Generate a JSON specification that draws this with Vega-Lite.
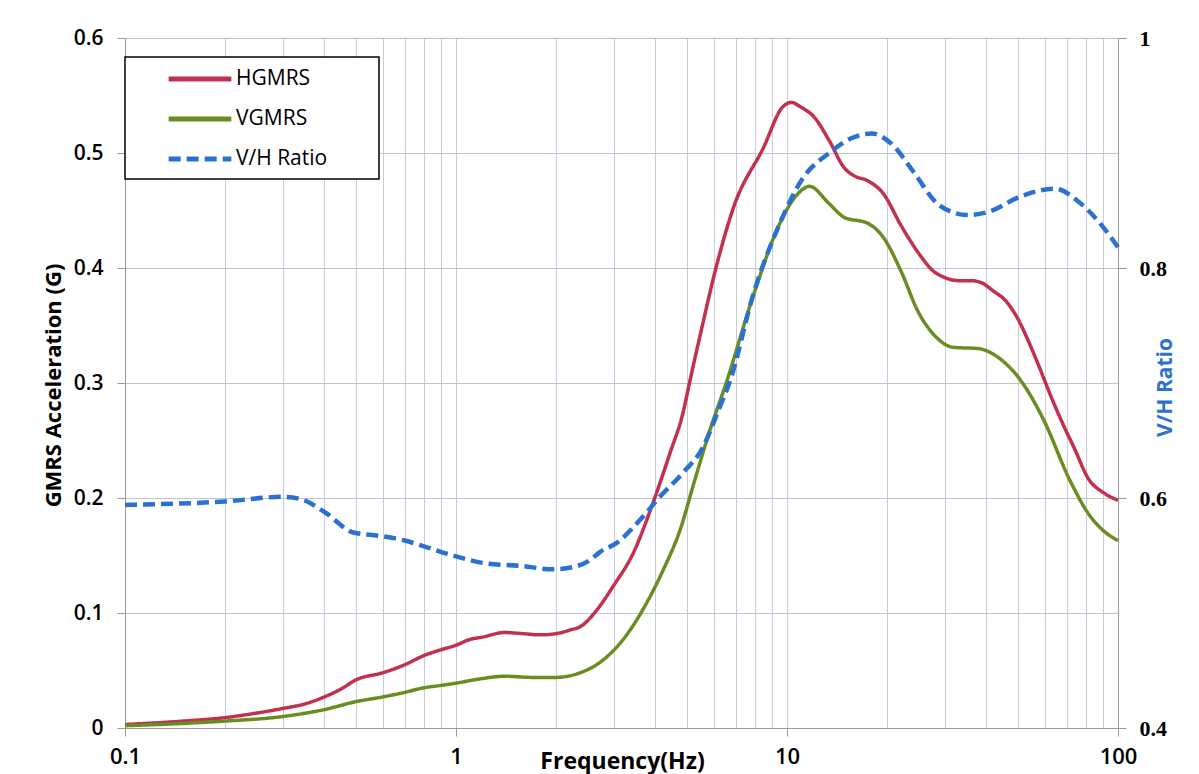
{
  "$schema": "https://vega.github.io/schema/vega-lite/v6.json",
  "width": 993,
  "height": 690,
  "autosize": {"type": "none"},
  "padding": {"left": 125, "top": 38, "right": 81, "bottom": 46},
  "background": "white",
  "config": {
    "view": {"stroke": null},
    "font": "Open Sans",
    "legend": {
      "orient": "none",
      "legendX": 0,
      "legendY": 19,
      "strokeColor": "#000000",
      "strokeWidth": 1.5,
      "fillColor": "#ffffff",
      "padding": 10,
      "symbolOffset": 53,
      "symbolType": "M-3.3,0L3.3,0",
      "symbolSize": 361,
      "symbolStrokeWidth": 5,
      "labelOffset": 24,
      "labelFontSize": 21,
      "labelFont": "Open Sans",
      "labelColor": "#000000",
      "rowPadding": 18
    }
  },
  "data": {
    "values": [
      {"f": 0.1, "s": "HGMRS", "v": 0.003},
      {"f": 0.15, "s": "HGMRS", "v": 0.006},
      {"f": 0.2, "s": "HGMRS", "v": 0.009},
      {"f": 0.25, "s": "HGMRS", "v": 0.013},
      {"f": 0.3, "s": "HGMRS", "v": 0.017},
      {"f": 0.35, "s": "HGMRS", "v": 0.021},
      {"f": 0.4, "s": "HGMRS", "v": 0.027},
      {"f": 0.45, "s": "HGMRS", "v": 0.034},
      {"f": 0.5, "s": "HGMRS", "v": 0.042},
      {"f": 0.6, "s": "HGMRS", "v": 0.048},
      {"f": 0.7, "s": "HGMRS", "v": 0.055},
      {"f": 0.8, "s": "HGMRS", "v": 0.063},
      {"f": 0.9, "s": "HGMRS", "v": 0.068},
      {"f": 1.0, "s": "HGMRS", "v": 0.072},
      {"f": 1.1, "s": "HGMRS", "v": 0.077},
      {"f": 1.2, "s": "HGMRS", "v": 0.079},
      {"f": 1.4, "s": "HGMRS", "v": 0.083},
      {"f": 1.6, "s": "HGMRS", "v": 0.082},
      {"f": 1.8, "s": "HGMRS", "v": 0.081},
      {"f": 2.0, "s": "HGMRS", "v": 0.082},
      {"f": 2.2, "s": "HGMRS", "v": 0.085},
      {"f": 2.4, "s": "HGMRS", "v": 0.089},
      {"f": 2.67, "s": "HGMRS", "v": 0.103},
      {"f": 2.98, "s": "HGMRS", "v": 0.123},
      {"f": 3.43, "s": "HGMRS", "v": 0.152},
      {"f": 3.94, "s": "HGMRS", "v": 0.196},
      {"f": 4.43, "s": "HGMRS", "v": 0.239},
      {"f": 4.85, "s": "HGMRS", "v": 0.274},
      {"f": 5.1, "s": "HGMRS", "v": 0.303},
      {"f": 5.5, "s": "HGMRS", "v": 0.345},
      {"f": 6.1, "s": "HGMRS", "v": 0.4},
      {"f": 6.9, "s": "HGMRS", "v": 0.453},
      {"f": 8.5, "s": "HGMRS", "v": 0.505},
      {"f": 9.7, "s": "HGMRS", "v": 0.54},
      {"f": 10.3, "s": "HGMRS", "v": 0.544},
      {"f": 11.0, "s": "HGMRS", "v": 0.54},
      {"f": 12.1, "s": "HGMRS", "v": 0.531},
      {"f": 13.4, "s": "HGMRS", "v": 0.511},
      {"f": 14.9, "s": "HGMRS", "v": 0.487},
      {"f": 16.0, "s": "HGMRS", "v": 0.48},
      {"f": 17.5, "s": "HGMRS", "v": 0.476},
      {"f": 19.5, "s": "HGMRS", "v": 0.465},
      {"f": 22.2, "s": "HGMRS", "v": 0.436},
      {"f": 25.4, "s": "HGMRS", "v": 0.41},
      {"f": 27.5, "s": "HGMRS", "v": 0.398},
      {"f": 29.8, "s": "HGMRS", "v": 0.392},
      {"f": 33.0, "s": "HGMRS", "v": 0.389},
      {"f": 36.0, "s": "HGMRS", "v": 0.389},
      {"f": 38.8, "s": "HGMRS", "v": 0.387},
      {"f": 42.0, "s": "HGMRS", "v": 0.38},
      {"f": 45.6, "s": "HGMRS", "v": 0.372},
      {"f": 50.0, "s": "HGMRS", "v": 0.355},
      {"f": 53.5, "s": "HGMRS", "v": 0.337},
      {"f": 58.0, "s": "HGMRS", "v": 0.313},
      {"f": 62.8, "s": "HGMRS", "v": 0.288},
      {"f": 68.0, "s": "HGMRS", "v": 0.265},
      {"f": 73.6, "s": "HGMRS", "v": 0.244},
      {"f": 81.7, "s": "HGMRS", "v": 0.216},
      {"f": 90.0, "s": "HGMRS", "v": 0.205},
      {"f": 100.0, "s": "HGMRS", "v": 0.198},

      {"f": 0.1, "s": "VGMRS", "v": 0.002},
      {"f": 0.15, "s": "VGMRS", "v": 0.004},
      {"f": 0.2, "s": "VGMRS", "v": 0.006},
      {"f": 0.3, "s": "VGMRS", "v": 0.01},
      {"f": 0.4, "s": "VGMRS", "v": 0.016},
      {"f": 0.5, "s": "VGMRS", "v": 0.023},
      {"f": 0.6, "s": "VGMRS", "v": 0.027},
      {"f": 0.7, "s": "VGMRS", "v": 0.031},
      {"f": 0.8, "s": "VGMRS", "v": 0.035},
      {"f": 0.9, "s": "VGMRS", "v": 0.037},
      {"f": 1.0, "s": "VGMRS", "v": 0.039},
      {"f": 1.2, "s": "VGMRS", "v": 0.043},
      {"f": 1.4, "s": "VGMRS", "v": 0.045},
      {"f": 1.7, "s": "VGMRS", "v": 0.044},
      {"f": 2.0, "s": "VGMRS", "v": 0.044},
      {"f": 2.37, "s": "VGMRS", "v": 0.048},
      {"f": 2.72, "s": "VGMRS", "v": 0.057},
      {"f": 3.2, "s": "VGMRS", "v": 0.077},
      {"f": 3.67, "s": "VGMRS", "v": 0.103},
      {"f": 4.22, "s": "VGMRS", "v": 0.137},
      {"f": 4.75, "s": "VGMRS", "v": 0.172},
      {"f": 5.27, "s": "VGMRS", "v": 0.216},
      {"f": 5.85, "s": "VGMRS", "v": 0.259},
      {"f": 6.55, "s": "VGMRS", "v": 0.3},
      {"f": 7.89, "s": "VGMRS", "v": 0.375},
      {"f": 9.52, "s": "VGMRS", "v": 0.439},
      {"f": 10.6, "s": "VGMRS", "v": 0.462},
      {"f": 11.7, "s": "VGMRS", "v": 0.471},
      {"f": 13.4, "s": "VGMRS", "v": 0.456},
      {"f": 14.9, "s": "VGMRS", "v": 0.444},
      {"f": 17.5, "s": "VGMRS", "v": 0.439},
      {"f": 19.5, "s": "VGMRS", "v": 0.427},
      {"f": 22.2, "s": "VGMRS", "v": 0.396},
      {"f": 24.8, "s": "VGMRS", "v": 0.363},
      {"f": 28.2, "s": "VGMRS", "v": 0.34},
      {"f": 31.8, "s": "VGMRS", "v": 0.331},
      {"f": 37.7, "s": "VGMRS", "v": 0.33},
      {"f": 44.5, "s": "VGMRS", "v": 0.32},
      {"f": 50.6, "s": "VGMRS", "v": 0.303},
      {"f": 59.6, "s": "VGMRS", "v": 0.268},
      {"f": 71.4, "s": "VGMRS", "v": 0.216},
      {"f": 82.0, "s": "VGMRS", "v": 0.185},
      {"f": 90.0, "s": "VGMRS", "v": 0.172},
      {"f": 100.0, "s": "VGMRS", "v": 0.163},

      {"f": 0.1, "s": "V/H Ratio", "v": 0.594},
      {"f": 0.2, "s": "V/H Ratio", "v": 0.597},
      {"f": 0.3, "s": "V/H Ratio", "v": 0.601},
      {"f": 0.34, "s": "V/H Ratio", "v": 0.599},
      {"f": 0.4, "s": "V/H Ratio", "v": 0.588},
      {"f": 0.49, "s": "V/H Ratio", "v": 0.57},
      {"f": 0.59, "s": "V/H Ratio", "v": 0.567},
      {"f": 0.7, "s": "V/H Ratio", "v": 0.563},
      {"f": 0.8, "s": "V/H Ratio", "v": 0.558},
      {"f": 0.98, "s": "V/H Ratio", "v": 0.55},
      {"f": 1.24, "s": "V/H Ratio", "v": 0.543},
      {"f": 1.56, "s": "V/H Ratio", "v": 0.541},
      {"f": 1.96, "s": "V/H Ratio", "v": 0.538},
      {"f": 2.26, "s": "V/H Ratio", "v": 0.54},
      {"f": 2.54, "s": "V/H Ratio", "v": 0.546},
      {"f": 2.72, "s": "V/H Ratio", "v": 0.553},
      {"f": 3.06, "s": "V/H Ratio", "v": 0.561},
      {"f": 3.6, "s": "V/H Ratio", "v": 0.581},
      {"f": 4.13, "s": "V/H Ratio", "v": 0.601},
      {"f": 4.85, "s": "V/H Ratio", "v": 0.622},
      {"f": 5.57, "s": "V/H Ratio", "v": 0.644},
      {"f": 6.2, "s": "V/H Ratio", "v": 0.676},
      {"f": 6.75, "s": "V/H Ratio", "v": 0.703},
      {"f": 7.89, "s": "V/H Ratio", "v": 0.776},
      {"f": 9.52, "s": "V/H Ratio", "v": 0.839},
      {"f": 11.1, "s": "V/H Ratio", "v": 0.877},
      {"f": 13.4, "s": "V/H Ratio", "v": 0.9},
      {"f": 15.7, "s": "V/H Ratio", "v": 0.913},
      {"f": 18.0, "s": "V/H Ratio", "v": 0.917},
      {"f": 20.5, "s": "V/H Ratio", "v": 0.909},
      {"f": 24.2, "s": "V/H Ratio", "v": 0.883},
      {"f": 28.2, "s": "V/H Ratio", "v": 0.857},
      {"f": 32.0, "s": "V/H Ratio", "v": 0.848},
      {"f": 35.0, "s": "V/H Ratio", "v": 0.846},
      {"f": 40.8, "s": "V/H Ratio", "v": 0.849},
      {"f": 50.6, "s": "V/H Ratio", "v": 0.862},
      {"f": 64.4, "s": "V/H Ratio", "v": 0.869},
      {"f": 76.5, "s": "V/H Ratio", "v": 0.857},
      {"f": 88.2, "s": "V/H Ratio", "v": 0.839},
      {"f": 100.0, "s": "V/H Ratio", "v": 0.818}
    ]
  },
  "encoding": {
    "x": {
      "field": "f",
      "type": "quantitative",
      "scale": {"type": "log", "domain": [0.1, 100], "nice": false},
      "axis": {
        "title": "Frequency(Hz)",
        "values": [0.1, 0.2, 0.3, 0.4, 0.5, 0.6, 0.7, 0.8, 0.9, 1, 2, 3, 4, 5, 6, 7, 8, 9, 10, 20, 30, 40, 50, 60, 70, 80, 90, 100],
        "labelExpr": "(datum.value == 0.1 || datum.value == 1 || datum.value == 10 || datum.value == 100) ? datum.label : ''",
        "format": "~g",
        "grid": true,
        "gridColor": "#cbcbe0",
        "gridWidth": 1,
        "tickOpacity": {"condition": {"test": "datum.value == 0.1 || datum.value == 1 || datum.value == 10 || datum.value == 100", "value": 1}, "value": 0},
        "tickColor": "#9a9a9a",
        "tickSize": 8,
        "domainColor": "#9a9a9a",
        "labelFont": "Open Sans",
        "labelFontWeight": 600,
        "labelFontSize": 22,
        "labelColor": "#000000",
        "labelPadding": 10,
        "labelFlush": false,
        "labelOverlap": false,
        "titleFont": "Open Sans",
        "titleFontSize": 23,
        "titleFontWeight": "bold",
        "titleColor": "#000000",
        "titleX": 497,
        "titleY": 33,
        "titleBaseline": "middle",
        "titleAlign": "center"
      }
    },
    "color": {
      "field": "s",
      "type": "nominal",
      "scale": {"domain": ["HGMRS", "VGMRS", "V/H Ratio"], "range": ["#c3304e", "#6a8d22", "#2b72cf"]},
      "legend": {"title": null, "labelExpr": "datum.label + '\u2003\u00a0\u2800'"}
    },
    "strokeDash": {
      "field": "s",
      "type": "nominal",
      "scale": {"domain": ["HGMRS", "VGMRS", "V/H Ratio"], "range": [[1, 0], [1, 0], [12, 6]]},
      "legend": {"title": null, "labelExpr": "datum.label + '\u2003\u00a0\u2800'"}
    }
  },
  "layer": [
    {
      "transform": [{"filter": "datum.s != 'V/H Ratio'"}],
      "mark": {"type": "line", "strokeWidth": 3.5, "interpolate": "monotone"},
      "encoding": {
        "y": {
          "field": "v",
          "type": "quantitative",
          "scale": {"domain": [0, 0.6], "nice": false},
          "axis": {
            "orient": "left",
            "title": "GMRS Acceleration (G)",
            "values": [0, 0.1, 0.2, 0.3, 0.4, 0.5, 0.6],
            "format": "~g",
            "grid": true,
            "gridColor": "#c2c2d4",
            "tickColor": "#9a9a9a",
            "tickSize": 8,
            "domainColor": "#9a9a9a",
            "labelFont": "Open Sans",
            "labelFontWeight": 600,
            "labelFontSize": 21,
            "labelColor": "#000000",
            "labelPadding": 14,
            "labelFlush": false,
            "titleFont": "Open Sans",
            "titleFontSize": 22,
            "titleFontWeight": "bold",
            "titleColor": "#000000",
            "titleAngle": 270,
            "titleX": -72,
            "titleY": 347,
            "titleBaseline": "middle",
            "titleAlign": "center"
          }
        }
      }
    },
    {
      "transform": [{"filter": "datum.s == 'V/H Ratio'"}],
      "mark": {"type": "line", "strokeWidth": 4.5, "interpolate": "monotone"},
      "encoding": {
        "y": {
          "field": "v",
          "type": "quantitative",
          "scale": {"domain": [0.4, 1], "nice": false},
          "axis": {
            "orient": "right",
            "title": "V/H Ratio",
            "values": [0.4, 0.6, 0.8, 1],
            "format": "~g",
            "grid": false,
            "tickColor": "#9a9a9a",
            "tickSize": 8,
            "domainColor": "#9a9a9a",
            "labelFont": "Liberation Serif",
            "labelFontWeight": "bold",
            "labelFontSize": 22,
            "labelColor": "#000000",
            "labelPadding": 13,
            "labelFlush": false,
            "titleFont": "Open Sans",
            "titleFontSize": 21,
            "titleFontWeight": "bold",
            "titleColor": "#2b72cf",
            "titleAngle": 270,
            "titleX": 47,
            "titleY": 349,
            "titleBaseline": "middle",
            "titleAlign": "center"
          }
        }
      }
    }
  ],
  "resolve": {"scale": {"y": "independent"}}
}
